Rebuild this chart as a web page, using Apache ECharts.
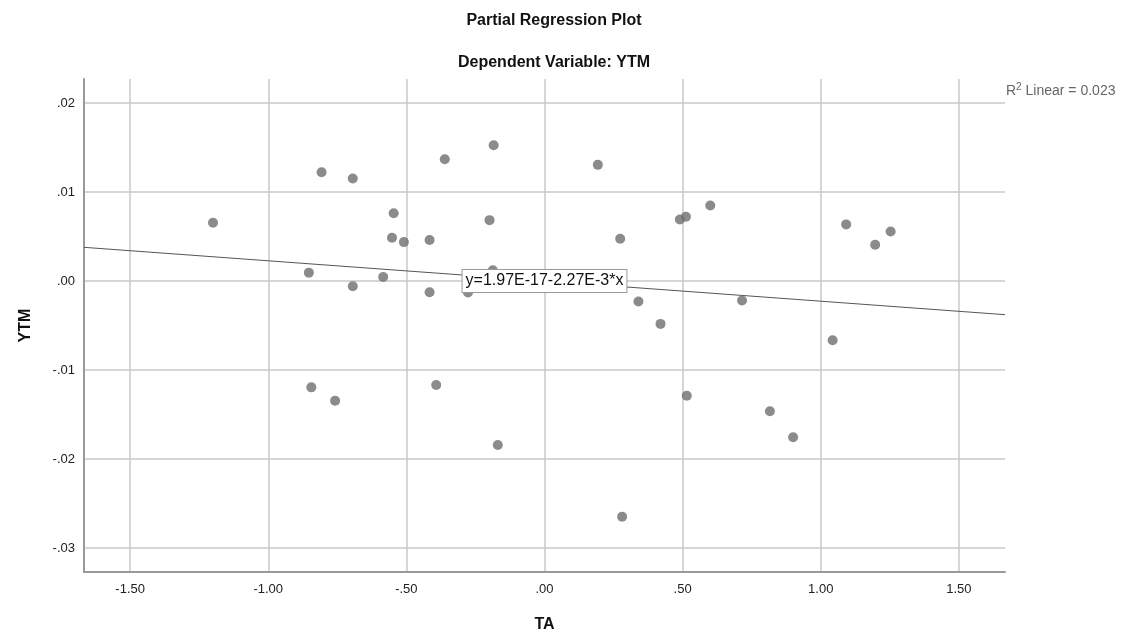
<!DOCTYPE html>
<html>
<head>
<meta charset="utf-8">
<script src="https://cdn.jsdelivr.net/npm/echarts@6/dist/echarts.min.js"></script>
<style>
  html, body { margin: 0; padding: 0; background: #fff; }
  #chart { width: 1125px; height: 638px; }
</style>
</head>
<body>
<div id="chart"></div>
<script>
// partial regression residuals
var taValues = [-1.200, -0.807, -0.694, -0.361, -0.184, 0.193, -0.546, -0.199, 0.490, 0.512,
    0.600, 1.092, 1.253, 1.197, -0.552, -0.509, -0.416, 0.274, -0.853, -0.694,
    -0.584, -0.416, -0.187, -0.277, 0.340, 0.715, 0.420, 1.043, -0.844, -0.758,
    -0.392, -0.169, 0.515, 0.816, 0.900, 0.281];
var ytmValues = [0.00655, 0.01222, 0.01151, 0.01368, 0.01525, 0.01305, 0.00762, 0.00684, 0.00692, 0.00722,
    0.00849, 0.00636, 0.00557, 0.00408, 0.00487, 0.00437, 0.00460, 0.00475, 0.00094, -0.00059,
    0.00045, -0.00127, 0.00120, -0.00130, -0.00231, -0.00220, -0.00482, -0.00665, -0.01195, -0.01345,
    -0.01169, -0.01842, -0.01289, -0.01464, -0.01756, -0.02649];

// fit line y = a + b*x
var fitIntercept = 1.97e-17;
var fitSlope = -2.27e-3;
var fitText = 'y=1.97E-17-2.27E-3*x';
var r2Value = '0.023';

var xRange = [-1.667, 1.667];
var yRange = [-0.0327, 0.0227];

var font = 'Liberation Sans, Arial, sans-serif';

function spssNum(v) {
    var s = v.toFixed(2);
    if (s === '-0.00') s = '0.00';
    return s.replace(/^(-?)0\./, '$1.');
}

var points = taValues.map(function (x, i) { return [x, ytmValues[i]]; });
var fitLine = xRange.map(function (x) { return [x, fitIntercept + fitSlope * x]; });

var chart = echarts.init(document.getElementById('chart'));

var option = {
    backgroundColor: '#fff',
    animation: false,
    textStyle: { fontFamily: font },
    graphic: [
        {
            type: 'text', x: 554, y: 21,
            style: { text: 'Partial Regression Plot', font: 'bold 16px ' + font, fill: '#111', align: 'center', verticalAlign: 'middle' }
        },
        {
            type: 'text', x: 554, y: 63,
            style: { text: 'Dependent Variable: YTM', font: 'bold 16px ' + font, fill: '#111', align: 'center', verticalAlign: 'middle' }
        },
        {
            type: 'text', x: 1006, y: 91,
            style: {
                text: 'R{sup|2} Linear = ' + r2Value,
                font: '14px ' + font, fill: '#666', align: 'left', verticalAlign: 'middle',
                rich: { sup: { fontSize: 10, fill: '#666', padding: [0, 0, 7, 0] } }
            }
        }
    ],
    grid: { left: 84, right: 120, top: 79, bottom: 65 },
    xAxis: {
        type: 'value',
        min: xRange[0],
        max: xRange[1],
        name: 'TA',
        nameLocation: 'middle',
        nameGap: 45,
        nameTextStyle: { fontSize: 16, fontWeight: 'bold', color: '#111', fontFamily: font },
        axisLine: { show: true, onZero: false, lineStyle: { color: '#999', width: 2 } },
        axisTick: { show: false },
        axisLabel: {
            showMinLabel: false, showMaxLabel: false,
            margin: 11, fontSize: 13, color: '#222', fontFamily: font,
            formatter: spssNum
        },
        splitLine: {
            show: true, showMinLine: false, showMaxLine: false,
            lineStyle: { color: '#c8c8c8', width: 1.5 }
        }
    },
    yAxis: {
        type: 'value',
        min: yRange[0],
        max: yRange[1],
        name: 'YTM',
        nameLocation: 'middle',
        nameGap: 50,
        nameTextStyle: { fontSize: 16, fontWeight: 'bold', color: '#111', fontFamily: font },
        axisLine: { show: true, onZero: false, lineStyle: { color: '#999', width: 2 } },
        axisTick: { show: false },
        axisLabel: {
            showMinLabel: false, showMaxLabel: false,
            margin: 9, fontSize: 13, color: '#222', fontFamily: font,
            formatter: spssNum
        },
        splitLine: {
            show: true, showMinLine: false, showMaxLine: false,
            lineStyle: { color: '#c8c8c8', width: 1.5 }
        }
    },
    series: [
        {
            name: 'fit',
            type: 'line',
            data: fitLine,
            symbol: 'none',
            z: 2,
            lineStyle: { color: '#555', width: 1 },
            markPoint: {
                symbol: 'rect',
                symbolSize: 0,
                z: 10,
                data: [{ coord: [0, fitIntercept] }],
                label: {
                    show: true,
                    position: 'inside',
                    formatter: fitText,
                    fontSize: 16,
                    color: '#111',
                    fontFamily: font,
                    backgroundColor: '#fff',
                    borderColor: '#999',
                    borderWidth: 1,
                    padding: [3, 3, 3, 3]
                }
            }
        },
        {
            name: 'YTM',
            type: 'scatter',
            data: points,
            symbol: 'circle',
            symbolSize: 10,
            z: 3,
            itemStyle: { color: '#6e6e6e' }
        }
    ]
};

chart.setOption(option);
</script>
</body>
</html>
